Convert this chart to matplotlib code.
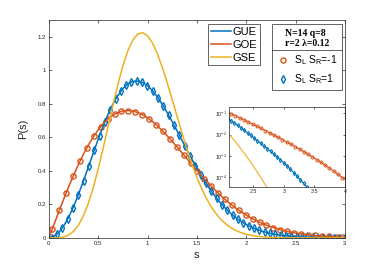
import matplotlib.pyplot as plt
import numpy as np
from matplotlib.lines import Line2D

# level spacing grid for the Wigner-surmise curves (step 0.05)
s_theory = np.round(np.arange(0, 3.001, 0.05), 2)
p_gue = [0, 0.00808, 0.03201, 0.07089, 0.12325, 0.18714, 0.26021, 0.33982, 0.42315, 0.50734, 0.58959,
         0.66728, 0.73807, 0.79993, 0.85133, 0.89112, 0.91863, 0.93365, 0.93637, 0.92739, 0.90758,
         0.87814, 0.84050, 0.79605, 0.74642, 0.69294, 0.63710, 0.58039, 0.52409, 0.46887, 0.41582,
         0.36557, 0.31873, 0.27576, 0.23641, 0.20117, 0.16976, 0.14215, 0.11798, 0.09727, 0.07963,
         0.06467, 0.05209, 0.04165, 0.03306, 0.02605, 0.02038, 0.01583, 0.01220, 0.00934, 0.00709,
         0.00535, 0.00401, 0.00298, 0.00220, 0.00162, 0.00118, 0.00085, 0.00061, 0.00043, 0.00031]
p_goe = [0, 0.07838, 0.15585, 0.23149, 0.30444, 0.37389, 0.43908, 0.49935, 0.55412, 0.60292, 0.64538,
         0.68124, 0.71036, 0.73269, 0.74832, 0.75739, 0.76017, 0.75701, 0.74831, 0.73454, 0.71619,
         0.69383, 0.66803, 0.63935, 0.60831, 0.57554, 0.54153, 0.50678, 0.47176, 0.43686, 0.40249,
         0.36896, 0.33653, 0.30547, 0.27596, 0.24812, 0.22198, 0.19758, 0.17510, 0.15450, 0.13575,
         0.11869, 0.10335, 0.08950, 0.07720, 0.06630, 0.05669, 0.04825, 0.04090, 0.03452, 0.02898,
         0.02427, 0.02022, 0.01677, 0.01383, 0.01136, 0.00932, 0.00761, 0.00615, 0.00496, 0.00401]
p_gse = [0, 0.00007, 0.00113, 0.00558, 0.01695, 0.03933, 0.07662, 0.13189, 0.20668, 0.30072, 0.41160,
         0.53509, 0.66539, 0.79556, 0.91851, 1.02717, 1.11580, 1.17979, 1.21646, 1.22470, 1.20578,
         1.16256, 1.09741, 1.01623, 0.92346, 0.82394, 0.72242, 0.62250, 0.52759, 0.43987, 0.36049,
         0.29112, 0.23136, 0.18112, 0.13968, 0.10616, 0.07950, 0.05869, 0.04277, 0.03069, 0.02171,
         0.01518, 0.01044, 0.00709, 0.00475, 0.00315, 0.00205, 0.00132, 0.00084, 0.00053, 0.000325,
         0.000199, 0.000120, 0.0000715, 0.0000420, 0.0000244, 0.0000140, 0.0000079, 0.0000044,
         0.0000024, 0.0000013]

# numerical histograms, S_L S_R = -1 (bin 0.07) and S_L S_R = 1 (bin 0.054)
s_minus = np.round(0.035 + 0.07 * np.arange(58), 3)
p_minus = [0.0549, 0.1635, 0.2684, 0.3671, 0.4577, 0.5383, 0.6075, 0.6641, 0.7078, 0.7380,
           0.7553, 0.7601, 0.7533, 0.7361, 0.7099, 0.6761, 0.6364, 0.5921, 0.5450, 0.4962,
           0.4473, 0.3991, 0.3526, 0.3085, 0.2674, 0.2296, 0.1953, 0.1646, 0.1375, 0.1139,
           0.0935, 0.0761, 0.0614, 0.0491, 0.0389, 0.0306,
           0.0243, 0.0192, 0.0152, 0.0120, 0.00944, 0.00740, 0.00577,
           0.00450, 0.00349, 0.00270, 0.00207, 0.00158, 0.00119, 0.000897, 0.000670,
           0.000497, 0.000365, 0.000265, 0.000191, 0.000137, 0.0000968, 0.0000678]
s_plus = np.round(0.027 + 0.054 * np.arange(63), 3)
p_plus = [0.00236, 0.02110, 0.05774, 0.11067, 0.17759, 0.25561, 0.34146, 0.43158, 0.52237, 0.61032,
          0.69222, 0.76523, 0.82703, 0.87589, 0.91068, 0.93091, 0.93680, 0.92880, 0.90806, 0.87612,
          0.83470, 0.78558, 0.73059, 0.67188, 0.61109, 0.54980, 0.48966, 0.43150, 0.37652, 0.32524,
          0.27819, 0.23575, 0.19783, 0.16446, 0.13549, 0.11063, 0.08954, 0.07178, 0.05705, 0.04495,
          0.03511, 0.02719, 0.02089, 0.01591, 0.01200, 0.00899,
          0.00676, 0.00513, 0.00387, 0.00291, 0.00218, 0.00162, 0.00120, 0.000887, 0.000652,
          0.000472, 0.000337, 0.000238, 0.000165, 0.000114, 0.0000771, 0.0000518, 0.0000344]

x_ticks = [0, 0.5, 1, 1.5, 2, 2.5, 3]
x_labels = ['0', '0.5', '1', '1.5', '2', '2.5', '3']
y_ticks = [0, 0.2, 0.4, 0.6, 0.8, 1, 1.2]
y_labels = ['0', '0.2', '0.4', '0.6', '0.8', '1', '1.2']
inset_x_ticks = [2.5, 3, 3.5, 4]
inset_x_labels = ['2.5', '3', '3.5', '4']

BLUE = '#0072BD'
ORANGE = '#D95319'
YELLOW = '#EDB120'
DARK = '#262626'

plt.rcParams['font.family'] = ['Liberation Sans', 'DejaVu Sans']
plt.rcParams['mathtext.fontset'] = 'custom'
plt.rcParams['mathtext.rm'] = 'Liberation Sans'
plt.rcParams['mathtext.it'] = 'Liberation Sans:italic'


def style_axes(ax, size):
    for sp in ax.spines.values():
        sp.set_linewidth(0.5)
        sp.set_color(DARK)
    ax.tick_params(direction='in', top=True, right=True, length=2, width=0.5,
                   color=DARK, labelcolor=DARK, labelsize=size, pad=2)


fig = plt.figure(figsize=(3.82, 2.67), dpi=100)
ax = fig.add_axes([0.128, 0.109, 0.775, 0.816])

h_minus, = ax.plot(s_minus, p_minus, 'o', color=ORANGE, mfc='none', ms=3.7, mew=1.0)
h_plus, = ax.plot(s_plus, p_plus, 'd', color=BLUE, mfc='none', ms=3.7, mew=1.0)
gue, = ax.plot(s_theory, p_gue, color=BLUE, lw=1.1)
goe, = ax.plot(s_theory, p_goe, color=ORANGE, lw=1.1)
gse, = ax.plot(s_theory, p_gse, color=YELLOW, lw=1.1)

ax.set_xlim(0, 3)
ax.set_ylim(0, 1.3)
ax.set_xticks(x_ticks, x_labels)
ax.set_yticks(y_ticks, y_labels)
style_axes(ax, 4.3)
ax.set_xlabel('s', fontsize=8, color=DARK, labelpad=3)
ax.set_ylabel('P(s)', fontsize=8, color=DARK, labelpad=7)

leg1 = ax.legend([gue, goe, gse], ['GUE', 'GOE', 'GSE'], loc='upper left',
                 bbox_to_anchor=(0.538, 0.980), borderaxespad=0, fontsize=8,
                 fancybox=False, edgecolor=DARK, framealpha=1, handlelength=1.8,
                 handletextpad=0.15, borderpad=0.25, labelspacing=0.25)
leg1.get_frame().set_linewidth(0.5)
ax.add_artist(leg1)

leg2 = ax.legend([h_minus, h_plus],
                 [r'S$_{\mathregular{L}}$ S$_{\mathregular{R}}$=-1',
                  r'S$_{\mathregular{L}}$ S$_{\mathregular{R}}$=1'],
                 title='N=14 q=8\nr=2 λ=0.12',
                 title_fontproperties={'family': ['Liberation Serif', 'DejaVu Serif'],
                                       'weight': 'bold', 'size': 7},
                 loc='upper right', bbox_to_anchor=(0.989, 0.980), borderaxespad=0,
                 fontsize=7.5, fancybox=False, edgecolor=DARK, framealpha=1,
                 handlelength=1.3, handletextpad=0.4, borderpad=0.4, labelspacing=0.5)
leg2.get_frame().set_linewidth(0.5)

# inset: tails on a log scale
axi = fig.add_axes([0.5995, 0.3007, 0.3037, 0.2996])
axi.plot(s_minus, p_minus, '-o', color=ORANGE, lw=0.8, mfc='none', ms=2.2, mew=0.7)
axi.plot(s_plus, p_plus, '-d', color=BLUE, lw=0.8, mfc='none', ms=2.2, mew=0.7)
axi.plot(s_theory, p_gse, color=YELLOW, lw=0.8)
axi.set_yscale('log')
axi.set_xlim(2.1, 4)
axi.set_ylim(3.6e-5, 0.2)
axi.set_xticks(inset_x_ticks, inset_x_labels)
axi.set_yticks([1e-4, 1e-3, 1e-2, 1e-1])
axi.minorticks_off()
style_axes(axi, 3.8)
axi.tick_params(length=1.5, pad=1.5)

# separator between legend title and entries
fig.canvas.draw()
renderer = fig.canvas.get_renderer()
tb = leg2.get_title().get_window_extent(renderer)
fb = leg2.get_frame().get_window_extent(renderer)
inv = fig.transFigure.inverted()
(x0, y0), (x1, _) = inv.transform([(fb.x0, tb.y0 - 2), (fb.x1, tb.y0 - 2)])
fig.add_artist(Line2D([x0, x1], [y0, y0], color=DARK, lw=0.5, transform=fig.transFigure))

fig.savefig('out.png', dpi=100, facecolor='white')
